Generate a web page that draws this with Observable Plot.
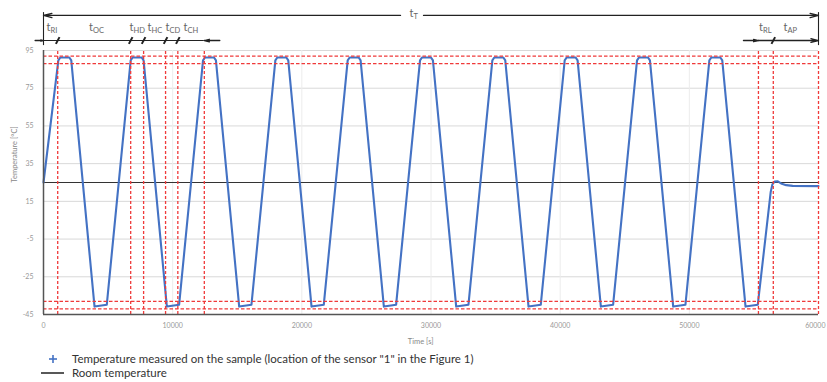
<!DOCTYPE html>
<html>
<head>
<meta charset="utf-8">
<script src="https://cdn.jsdelivr.net/npm/d3@7"></script>
<script src="https://cdn.jsdelivr.net/npm/@observablehq/plot@0.6"></script>
<style>
  body { margin: 0; background: white; font-family: Lato, "Open Sans", sans-serif; }
  #wrap { position: relative; width: 827px; height: 382px; }
  .lg { position: absolute; left: 0; font-size: 11.5px; color: #333; line-height: 14px; white-space: nowrap; }
  .lg span.t { position: absolute; left: 72px; top: 0; }
  .lg svg { position: absolute; left: 0; top: 0; }
</style>
</head>
<body>
<div id="wrap">
  <div id="chart"></div>
  <div class="lg" style="top:352px;">
    <svg width="70" height="14"><line x1="49" x2="57" y1="7" y2="7" stroke="#4472C4" stroke-width="1.6"/><line x1="53" x2="53" y1="3" y2="11" stroke="#4472C4" stroke-width="1.6"/></svg>
    <span class="t">Temperature measured on the sample (location of the sensor "1" in the Figure 1)</span>
  </div>
  <div class="lg" style="top:366px;">
    <svg width="70" height="14"><line x1="41" x2="64" y1="7" y2="7" stroke="#111" stroke-width="1.4"/></svg>
    <span class="t">Room temperature</span>
  </div>
</div>
<script>
// ---- data ----
const times = [0,
  1150, 1300, 2000, 2150, 3950, 4900,
  6750, 6900, 7600, 7750, 9550, 10500,
  12350, 12500, 13200, 13350, 15150, 16100,
  17950, 18100, 18800, 18950, 20750, 21700,
  23550, 23700, 24400, 24550, 26350, 27300,
  29150, 29300, 30000, 30150, 31950, 32900,
  34750, 34900, 35600, 35750, 37550, 38500,
  40350, 40500, 41200, 41350, 43150, 44100,
  45950, 46100, 46800, 46950, 48750, 49700,
  51550, 51700, 52400, 52550, 54350, 55300,
  56300, 56430, 56600, 56820, 57100, 57500, 58000, 60000];
const temps = [25,
  89.8, 91.3, 91.3, 89.8, -40.8, -39.8,
  89.8, 91.3, 91.3, 89.8, -40.8, -39.8,
  89.8, 91.3, 91.3, 89.8, -40.8, -39.8,
  89.8, 91.3, 91.3, 89.8, -40.8, -39.8,
  89.8, 91.3, 91.3, 89.8, -40.8, -39.8,
  89.8, 91.3, 91.3, 89.8, -40.8, -39.8,
  89.8, 91.3, 91.3, 89.8, -40.8, -39.8,
  89.8, 91.3, 91.3, 89.8, -40.8, -39.8,
  89.8, 91.3, 91.3, 89.8, -40.8, -39.8,
  89.8, 91.3, 91.3, 89.8, -40.8, -39.8,
  20, 24, 25.5, 25.7, 24.5, 23.6, 23.2, 23.1];
const roomTemp = 25;
const yTicks = [95, 75, 55, 35, 15, -5, -25, -45];
const xTicks = [0, 10000, 20000, 30000, 40000, 50000, 60000];
const limitTemps = [92, 88, -38, -42];
const markerTimes = [1100, 6750, 7750, 9450, 10400, 12450, 55350, 56500, 60000];
const slashTimes = [1100, 6750, 7750, 9450, 10400, 56500];
const spanSubs = ["RI", "OC", "HD", "HC", "CD", "CH", "RL", "AP"];
const spanLabelTimes = [540, 3830, 6970, 8360, 9760, 11150, 55700, 57600];
const totalSub = "T";
const totalLabelTime = 28650;

// ---- build ----
const profile = times.map((t, i) => ({t, v: temps[i]}));
const spanLabels = spanSubs.map((s, i) => ({s, x: spanLabelTimes[i]}));

// annotation rows above the frame (in temperature units beyond the domain)
const topY = 113.6, midY = 100.3, labY = 107.0, totY = 114.8;

const red = "#f03a3a";
const ink = "#222";
const fmt = d => String(d);

const chart = Plot.plot({
  width: 827,
  height: 348,
  marginLeft: 43,
  marginRight: 9,
  marginTop: 50,
  marginBottom: 34,
  x: {domain: [0, 60000]},
  y: {domain: [-45, 95]},
  style: {fontFamily: "Lato, 'Open Sans', sans-serif", background: "white", overflow: "visible"},
  marks: [
    Plot.gridY(yTicks, {stroke: "#d9d9d9", strokeOpacity: 1}),
    Plot.gridX(xTicks.slice(1, -1), {stroke: "#ececec", strokeOpacity: 1}),
    Plot.axisY(yTicks, {tickSize: 0, tickPadding: 10, fontSize: 7, fill: "#999", tickFormat: fmt, label: null}),
    Plot.axisX(xTicks.slice(0, -1), {tickSize: 0, tickPadding: 9, fontSize: 7, fill: "#999", tickFormat: fmt, label: null}),
    Plot.axisX(xTicks.slice(-1), {tickSize: 0, tickPadding: 9, fontSize: 7, fill: "#999", tickFormat: fmt, textAnchor: "end", dx: 7, label: null}),
    Plot.text(["Time [s]"], {x: 29200, y: -45, dy: 27, fontSize: 7.5, fill: "#888"}),
    Plot.text(["Temperature [°C]"], {frameAnchor: "left", rotate: -90, dx: -29, fontSize: 7.5, fill: "#888"}),
    Plot.ruleY([roomTemp], {stroke: "#333", strokeWidth: 1}),
    Plot.line(profile, {x: "t", y: "v", stroke: "#4472C4", strokeWidth: 2.1, strokeLinejoin: "round"}),
    Plot.ruleY(limitTemps, {stroke: red, strokeWidth: 1.3, strokeDasharray: "3.5,2"}),
    Plot.ruleX(markerTimes, {y1: -45, y2: 95, stroke: red, strokeWidth: 1.3, strokeDasharray: "3,2"}),
    Plot.ruleX([0], {stroke: "#555", strokeWidth: 1.5}),
    Plot.ruleY([-45], {stroke: "#555", strokeWidth: 1.5}),
    // total duration annotation
    Plot.ruleX([0, 60000], {y1: 97.6, y2: 115.1, stroke: ink, strokeWidth: 1.1}),
    Plot.arrow([{a: 27640, b: 0}, {a: 29420, b: 60000}], {x1: "a", x2: "b", y1: topY, y2: topY, stroke: ink, strokeWidth: 1.3, headLength: 10, headAngle: 28}),
    Plot.text([totalLabelTime], {x: d => d, y: totY, text: () => "t", textAnchor: "end", fontSize: 11, fill: "#666"}),
    Plot.text([totalLabelTime], {x: d => d, y: totY, text: () => totalSub, textAnchor: "start", dy: 3, fontSize: 7.5, fill: "#666"}),
    // phase dimension row
    Plot.ruleY([midY], {x1: 0, x2: 12450, stroke: ink, strokeWidth: 1.2}),
    Plot.arrow([{a: -650, b: 0}, {a: 13650, b: 12450}, {a: 54190, b: 55350}, {a: 55350, b: 60000}], {x1: "a", x2: "b", y1: midY, y2: midY, stroke: ink, strokeWidth: 1.3, headLength: 9, headAngle: 28}),
    Plot.link(slashTimes, {x1: d => d - 140, x2: d => d + 140, y1: midY - 1.8, y2: midY + 1.8, stroke: ink, strokeWidth: 2}),
    Plot.text(spanLabels, {x: "x", y: labY, text: () => "t", textAnchor: "end", fontSize: 11, fill: "#666"}),
    Plot.text(spanLabels, {x: "x", y: labY, text: "s", textAnchor: "start", dy: 3, fontSize: 7.5, fill: "#666"})
  ]
});
document.getElementById("chart").appendChild(chart);
</script>
</body>
</html>
